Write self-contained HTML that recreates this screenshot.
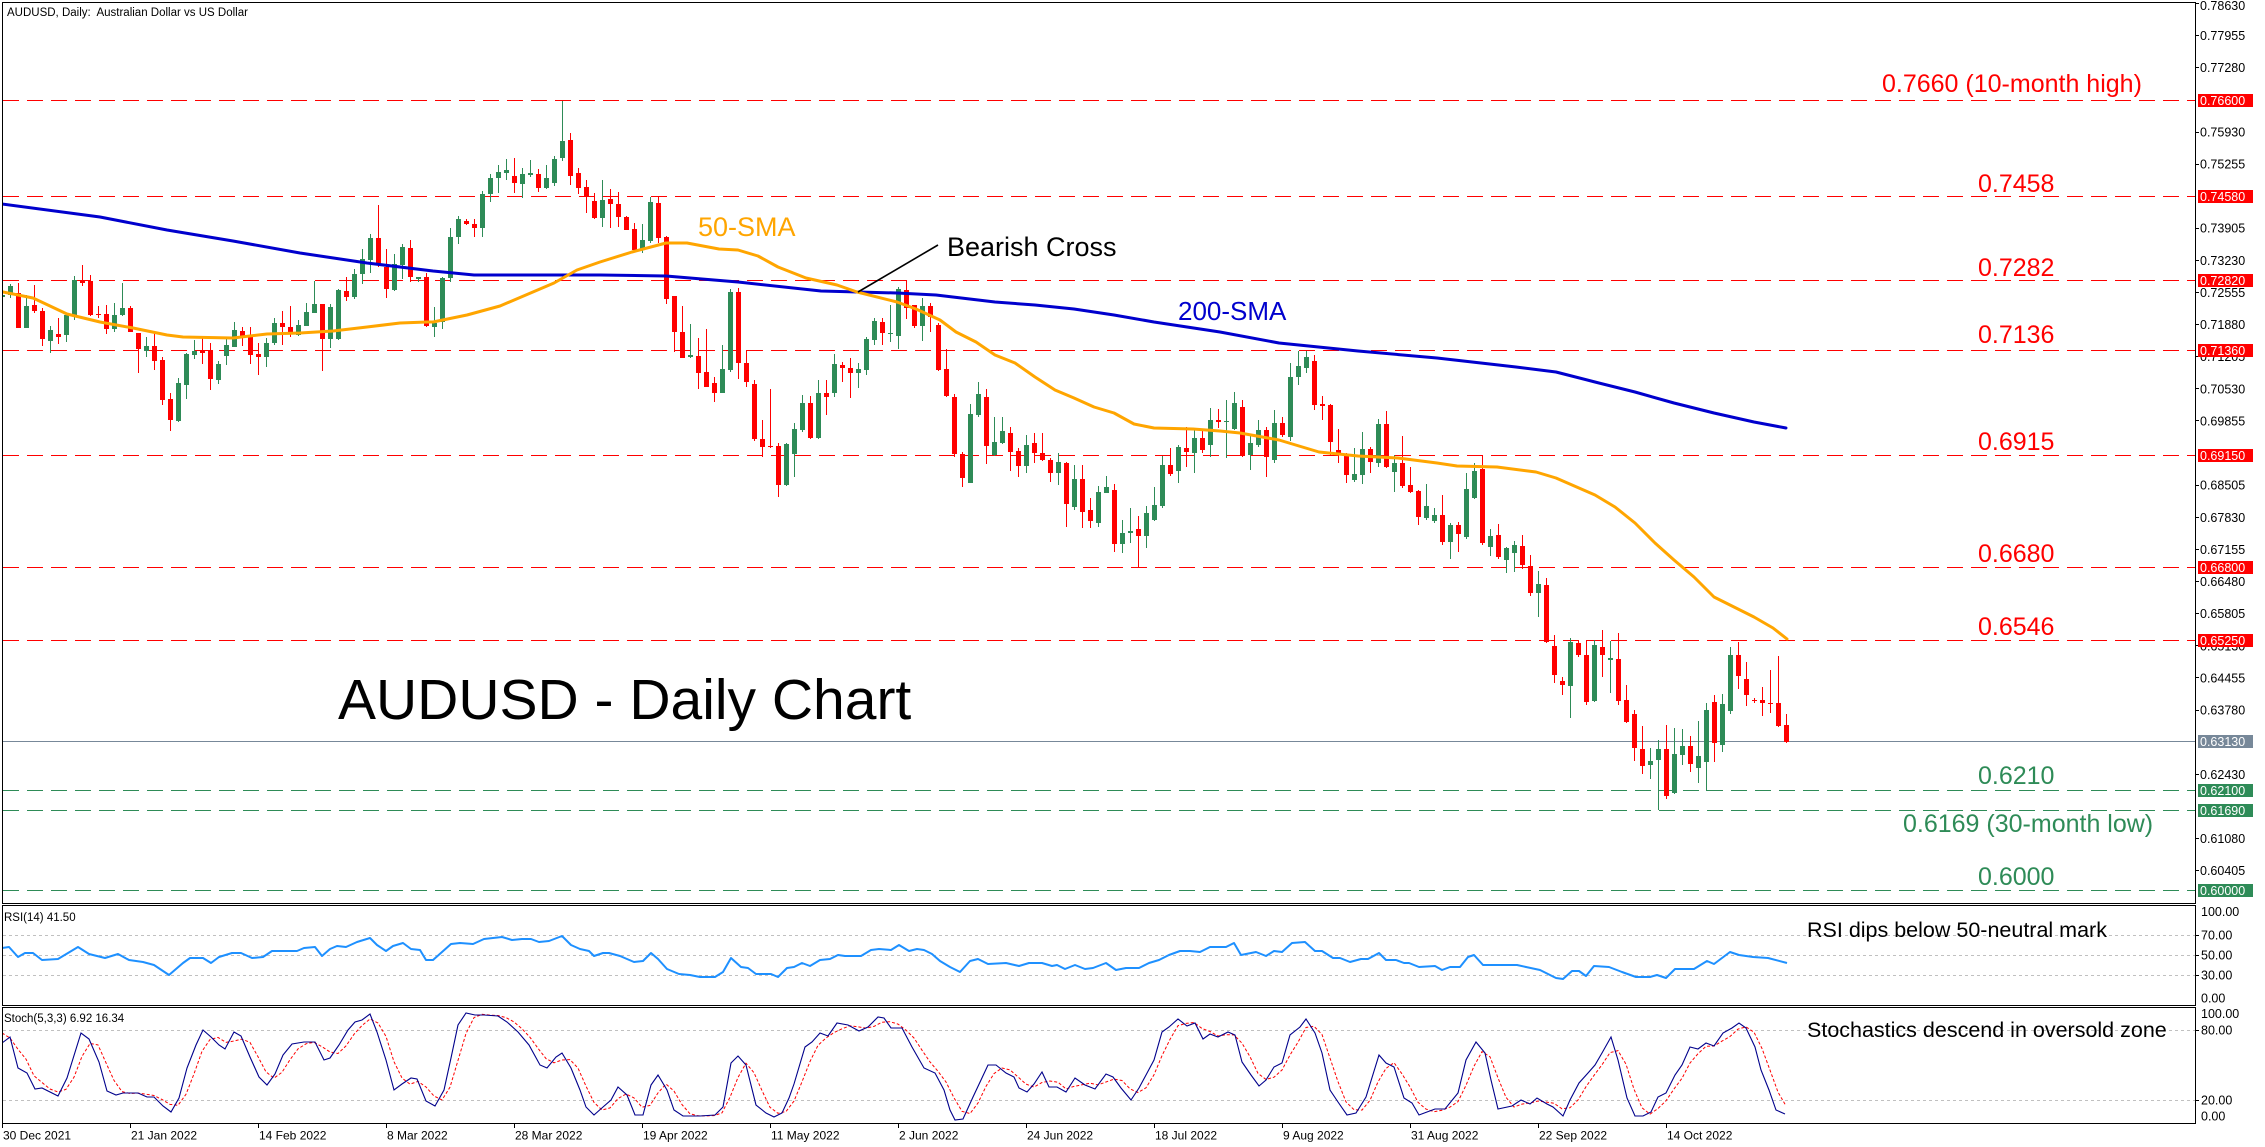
<!DOCTYPE html>
<html><head><meta charset="utf-8"><style>
html,body{margin:0;padding:0;background:#fff;overflow:hidden;}
svg{display:block;font-family:"Liberation Sans",Arial,sans-serif;}
</style></head><body>
<svg width="2265" height="1147" viewBox="0 0 2265 1147">
<defs>
<clipPath id="cm"><rect x="3" y="3" width="2192" height="900"/></clipPath>
<clipPath id="cr"><rect x="3" y="906" width="2192" height="99"/></clipPath>
<clipPath id="cs"><rect x="3" y="1008" width="2192" height="115"/></clipPath>
</defs>
<rect width="2265" height="1147" fill="#fff"/>

<!-- level lines -->
<g stroke-width="1" shape-rendering="crispEdges" fill="none">
<g stroke="#FF0000" stroke-dasharray="16 8">
<line x1="3" y1="100.5" x2="2195" y2="100.5"/>
<line x1="3" y1="196.5" x2="2195" y2="196.5"/>
<line x1="3" y1="280.5" x2="2195" y2="280.5"/>
<line x1="3" y1="350.5" x2="2195" y2="350.5"/>
<line x1="3" y1="455.5" x2="2195" y2="455.5"/>
<line x1="3" y1="567.5" x2="2195" y2="567.5"/>
<line x1="3" y1="640.5" x2="2195" y2="640.5"/>
</g>
<g stroke="#2E8B57" stroke-dasharray="16 8">
<line x1="3" y1="790.5" x2="2195" y2="790.5"/>
<line x1="3" y1="810.5" x2="2195" y2="810.5"/>
<line x1="3" y1="890.5" x2="2195" y2="890.5"/>
</g>
<line x1="3" y1="741.5" x2="2195" y2="741.5" stroke="#778899"/>
<g stroke="#C0C0C0" stroke-dasharray="3 3">
<line x1="3" y1="935.5" x2="2195" y2="935.5"/>
<line x1="3" y1="955.5" x2="2195" y2="955.5"/>
<line x1="3" y1="975.5" x2="2195" y2="975.5"/>
<line x1="3" y1="1030.5" x2="2195" y2="1030.5"/>
<line x1="3" y1="1100.5" x2="2195" y2="1100.5"/>
</g>
</g>

<!-- candles -->
<g id="candles" clip-path="url(#cm)" shape-rendering="crispEdges"></g>

<!-- moving averages -->
<g clip-path="url(#cm)" fill="none" stroke-linejoin="round" stroke-linecap="round">
<polyline stroke="#0000CD" stroke-width="3" points="2,204 100,217 167,230 233,241 300,253 367,263 433,271 474,275 561,275 600,275 666,276 738,282 821,291 858,292 897,293 936,295 995,302 1035,305 1074,309 1114,315 1154,322 1220,332 1279,343 1358,351 1437,358 1516,367 1556,372 1595,382 1635,392 1674,403 1714,413 1754,422 1786,428"/>
<polyline stroke="#FFA500" stroke-width="3" points="3,292 33,298 67,314 100,322 133,328 167,335 183,337 233,338 267,334 300,333 333,331 367,327 400,323 427,322 433,322 467,315 500,306 554,283 577,270 600,262 632,252 666,243 687,243 719,249 738,250 758,256 778,267 806,278 837,285 857,292 897,302 916,309 940,320 956,332 976,342 995,355 1015,363 1035,377 1055,390 1074,398 1094,407 1114,413 1134,424 1154,428 1193,429 1220,431 1240,433 1279,440 1319,452 1358,456 1398,458 1437,463 1457,466 1497,467 1536,472 1556,478 1595,495 1615,507 1635,523 1655,543 1674,560 1694,577 1714,597 1734,607 1754,617 1773,628 1787,639"/>
</g>

<!-- RSI -->
<g clip-path="url(#cr)" fill="none">
<polyline stroke="#1E90FF" stroke-width="2" stroke-linejoin="round" points="2,948 9,947 18,957 25,953 33,953 42,960 58,959 78,947 89,954 105,958 118,954 129,960 143,962 154,965 169,975 183,963 190,958 203,958 211,963 219,957 232,953 241,953 252,958 263,957 272,951 286,951 297,951 304,948 315,947 322,956 330,949 337,946 346,947 357,942 370,938 377,945 386,951 393,946 403,943 411,949 420,950 426,960 433,960 442,952 451,944 460,943 473,944 484,939 493,938 502,937 512,940 522,939 531,939 539,942 549,941 562,936 571,945 580,949 589,951 594,956 603,953 609,953 620,956 634,962 643,961 651,953 658,959 667,969 679,974 690,975 700,977 715,977 723,972 731,958 741,967 748,968 756,974 771,974 778,977 787,968 794,967 802,963 810,966 820,960 830,959 838,955 845,956 861,956 871,950 879,949 891,950 899,945 909,951 917,949 924,950 932,954 940,961 950,967 960,972 970,961 978,959 988,964 1006,963 1019,966 1029,963 1042,963 1052,966 1057,965 1065,969 1075,965 1085,969 1093,968 1106,963 1116,970 1126,968 1139,968 1149,963 1159,960 1169,955 1180,951 1190,951 1200,952 1210,947 1226,947 1234,943 1241,955 1256,952 1266,956 1274,951 1282,952 1292,943 1305,942 1315,951 1322,951 1333,958 1340,958 1350,962 1361,959 1368,959 1379,953 1386,960 1396,960 1404,963 1409,963 1419,967 1435,966 1442,970 1450,967 1460,967 1468,957 1474,955 1483,965 1494,965 1517,965 1526,967 1540,970 1556,978 1563,979 1572,971 1579,971 1586,976 1594,966 1609,967 1622,972 1636,977 1650,977 1657,975 1666,978 1675,969 1694,969 1707,961 1714,964 1730,952 1739,955 1753,957 1768,958 1787,963"/>
</g>

<!-- Stochastic -->
<g clip-path="url(#cs)" fill="none">
<polyline id="sig" stroke="#FF0000" stroke-width="1" stroke-dasharray="3 2" points=""/>
<polyline id="stm" stroke="#00008B" stroke-width="1.1" points="2,1043 10,1037 18,1068 27,1073 35,1089 42,1088 58,1096 67,1078 81,1033 89,1039 99,1062 107,1091 116,1095 123,1093 138,1093 147,1097 154,1097 163,1106 171,1112 179,1098 187,1068 196,1045 203,1030 211,1037 219,1045 225,1049 234,1032 241,1036 250,1057 259,1077 267,1085 275,1074 283,1055 292,1044 304,1042 315,1042 324,1060 330,1058 339,1045 348,1030 355,1022 362,1020 370,1014 377,1032 386,1060 394,1090 402,1084 411,1078 417,1079 426,1101 435,1106 444,1090 451,1058 458,1025 466,1013 475,1015 484,1015 498,1016 507,1022 518,1032 529,1045 540,1065 547,1068 556,1057 562,1053 571,1068 580,1090 586,1107 594,1115 603,1107 611,1100 618,1087 627,1095 635,1115 643,1115 651,1085 658,1075 667,1090 674,1110 683,1116 700,1116 715,1115 723,1107 731,1063 738,1056 746,1065 756,1105 766,1113 774,1117 782,1113 789,1098 794,1084 805,1047 812,1042 820,1033 828,1036 837,1023 848,1025 859,1031 868,1027 878,1017 884,1018 891,1028 902,1028 912,1047 924,1068 935,1073 944,1090 950,1110 955,1120 963,1119 973,1097 981,1080 988,1065 996,1065 1006,1073 1014,1077 1019,1088 1027,1092 1034,1084 1042,1072 1049,1087 1057,1087 1066,1092 1075,1078 1085,1085 1095,1089 1106,1074 1113,1077 1121,1088 1131,1100 1139,1088 1146,1075 1154,1060 1162,1032 1169,1027 1178,1019 1187,1026 1195,1023 1203,1039 1210,1034 1218,1037 1228,1032 1235,1035 1242,1062 1251,1075 1259,1086 1266,1080 1274,1067 1282,1063 1290,1035 1300,1027 1306,1019 1315,1033 1322,1053 1330,1090 1338,1102 1347,1115 1356,1113 1366,1097 1379,1055 1386,1063 1394,1067 1404,1098 1412,1103 1419,1115 1427,1112 1435,1109 1445,1109 1458,1093 1466,1060 1476,1042 1485,1053 1491,1080 1498,1109 1512,1106 1521,1100 1530,1104 1537,1098 1547,1104 1553,1107 1563,1116 1570,1100 1579,1083 1588,1073 1595,1065 1602,1053 1611,1037 1618,1060 1627,1098 1635,1116 1643,1116 1651,1112 1658,1097 1666,1093 1675,1075 1682,1065 1690,1047 1698,1049 1706,1043 1714,1046 1723,1033 1732,1028 1739,1023 1746,1028 1755,1047 1761,1070 1769,1090 1776,1110 1785,1114"/>
</g>

<!-- frames -->
<g fill="none" stroke="#000" stroke-width="1" shape-rendering="crispEdges">
<rect x="2.5" y="2.5" width="2193" height="901"/>
<rect x="2.5" y="905.5" width="2193" height="100"/>
<rect x="2.5" y="1007.5" width="2193" height="116"/>
</g>

<!-- price axis ticks -->
<g stroke="#000" stroke-width="1" shape-rendering="crispEdges">
<line x1="2195" y1="3.5" x2="2199" y2="3.5"/><line x1="2195" y1="35.5" x2="2199" y2="35.5"/><line x1="2195" y1="67.5" x2="2199" y2="67.5"/><line x1="2195" y1="132.5" x2="2199" y2="132.5"/><line x1="2195" y1="164.5" x2="2199" y2="164.5"/><line x1="2195" y1="228.5" x2="2199" y2="228.5"/><line x1="2195" y1="260.5" x2="2199" y2="260.5"/><line x1="2195" y1="292.5" x2="2199" y2="292.5"/><line x1="2195" y1="324.5" x2="2199" y2="324.5"/><line x1="2195" y1="356.5" x2="2199" y2="356.5"/><line x1="2195" y1="388.5" x2="2199" y2="388.5"/><line x1="2195" y1="420.5" x2="2199" y2="420.5"/><line x1="2195" y1="485.5" x2="2199" y2="485.5"/><line x1="2195" y1="517.5" x2="2199" y2="517.5"/><line x1="2195" y1="549.5" x2="2199" y2="549.5"/><line x1="2195" y1="581.5" x2="2199" y2="581.5"/><line x1="2195" y1="613.5" x2="2199" y2="613.5"/><line x1="2195" y1="645.5" x2="2199" y2="645.5"/><line x1="2195" y1="677.5" x2="2199" y2="677.5"/><line x1="2195" y1="710.5" x2="2199" y2="710.5"/><line x1="2195" y1="774.5" x2="2199" y2="774.5"/><line x1="2195" y1="838.5" x2="2199" y2="838.5"/><line x1="2195" y1="870.5" x2="2199" y2="870.5"/>
<line x1="2195" y1="935.5" x2="2199" y2="935.5"/><line x1="2195" y1="955.5" x2="2199" y2="955.5"/><line x1="2195" y1="975.5" x2="2199" y2="975.5"/>
<line x1="2195" y1="1030.5" x2="2199" y2="1030.5"/><line x1="2195" y1="1100.5" x2="2199" y2="1100.5"/>
<line x1="2.5" y1="1123" x2="2.5" y2="1128"/><line x1="130.5" y1="1123" x2="130.5" y2="1128"/><line x1="258.5" y1="1123" x2="258.5" y2="1128"/><line x1="386.5" y1="1123" x2="386.5" y2="1128"/><line x1="514.5" y1="1123" x2="514.5" y2="1128"/><line x1="642.5" y1="1123" x2="642.5" y2="1128"/><line x1="770.5" y1="1123" x2="770.5" y2="1128"/><line x1="898.5" y1="1123" x2="898.5" y2="1128"/><line x1="1026.5" y1="1123" x2="1026.5" y2="1128"/><line x1="1154.5" y1="1123" x2="1154.5" y2="1128"/><line x1="1282.5" y1="1123" x2="1282.5" y2="1128"/><line x1="1410.5" y1="1123" x2="1410.5" y2="1128"/><line x1="1538.5" y1="1123" x2="1538.5" y2="1128"/><line x1="1666.5" y1="1123" x2="1666.5" y2="1128"/>
</g>

<!-- price axis labels -->
<g font-size="12.5" fill="#000">
<text x="2200" y="10">0.78630</text>
<text x="2200" y="40">0.77955</text>
<text x="2200" y="72">0.77280</text>
<text x="2200" y="136.4">0.75930</text>
<text x="2200" y="168.5">0.75255</text>
<text x="2200" y="232.7">0.73905</text>
<text x="2200" y="264.9">0.73230</text>
<text x="2200" y="297">0.72555</text>
<text x="2200" y="329.1">0.71880</text>
<text x="2200" y="361.2">0.71205</text>
<text x="2200" y="393.3">0.70530</text>
<text x="2200" y="425.5">0.69855</text>
<text x="2200" y="489.7">0.68505</text>
<text x="2200" y="521.8">0.67830</text>
<text x="2200" y="553.9">0.67155</text>
<text x="2200" y="586.1">0.66480</text>
<text x="2200" y="618.2">0.65805</text>
<text x="2200" y="650.3">0.65130</text>
<text x="2200" y="682.4">0.64455</text>
<text x="2200" y="714.5">0.63780</text>
<text x="2200" y="778.8">0.62430</text>
<text x="2200" y="843">0.61080</text>
<text x="2200" y="875.1">0.60405</text>
<text x="2201" y="916">100.00</text>
<text x="2201" y="939.5">70.00</text>
<text x="2201" y="959.5">50.00</text>
<text x="2201" y="979.5">30.00</text>
<text x="2201" y="1002.5">0.00</text>
<text x="2201" y="1018">100.00</text>
<text x="2201" y="1034.5">80.00</text>
<text x="2201" y="1104.5">20.00</text>
<text x="2201" y="1120.5">0.00</text>
</g>

<!-- price boxes -->
<g shape-rendering="crispEdges">
<rect x="2198" y="94" width="55" height="13" fill="#FF0000"/>
<rect x="2198" y="190" width="55" height="13" fill="#FF0000"/>
<rect x="2198" y="274" width="55" height="13" fill="#FF0000"/>
<rect x="2198" y="344" width="55" height="13" fill="#FF0000"/>
<rect x="2198" y="449" width="55" height="13" fill="#FF0000"/>
<rect x="2198" y="561" width="55" height="13" fill="#FF0000"/>
<rect x="2198" y="634" width="55" height="13" fill="#FF0000"/>
<rect x="2198" y="735" width="55" height="13" fill="#778899"/>
<rect x="2198" y="784" width="55" height="13" fill="#2E8B57"/>
<rect x="2198" y="804" width="55" height="13" fill="#2E8B57"/>
<rect x="2198" y="884" width="55" height="13" fill="#2E8B57"/>
</g>
<g font-size="12.5" fill="#fff">
<text x="2200" y="105">0.76600</text>
<text x="2200" y="201">0.74580</text>
<text x="2200" y="285">0.72820</text>
<text x="2200" y="355">0.71360</text>
<text x="2200" y="460">0.69150</text>
<text x="2200" y="572">0.66800</text>
<text x="2200" y="645">0.65250</text>
<text x="2200" y="746">0.63130</text>
<text x="2200" y="795">0.62100</text>
<text x="2200" y="815">0.61690</text>
<text x="2200" y="895">0.60000</text>
</g>

<!-- x axis labels -->
<g font-size="12" fill="#000">
<text x="3" y="1139.5">30 Dec 2021</text>
<text x="131" y="1139.5">21 Jan 2022</text>
<text x="259" y="1139.5">14 Feb 2022</text>
<text x="387" y="1139.5">8 Mar 2022</text>
<text x="515" y="1139.5">28 Mar 2022</text>
<text x="643" y="1139.5">19 Apr 2022</text>
<text x="771" y="1139.5">11 May 2022</text>
<text x="899" y="1139.5">2 Jun 2022</text>
<text x="1027" y="1139.5">24 Jun 2022</text>
<text x="1155" y="1139.5">18 Jul 2022</text>
<text x="1283" y="1139.5">9 Aug 2022</text>
<text x="1411" y="1139.5">31 Aug 2022</text>
<text x="1539" y="1139.5">22 Sep 2022</text>
<text x="1667" y="1139.5">14 Oct 2022</text>
</g>

<!-- panel captions -->
<g font-size="11.5" fill="#000">
<text x="7" y="16">AUDUSD, Daily:&#160; Australian Dollar vs US Dollar</text>
<text x="4" y="921">RSI(14) 41.50</text>
<text x="4" y="1022">Stoch(5,3,3) 6.92 16.34</text>
</g>

<!-- annotations -->
<g font-size="25" fill="#FF0000">
<text x="1882" y="92">0.7660 (10-month high)</text>
<text x="1978" y="192">0.7458</text>
<text x="1978" y="276">0.7282</text>
<text x="1978" y="343">0.7136</text>
<text x="1978" y="450">0.6915</text>
<text x="1978" y="562">0.6680</text>
<text x="1978" y="635">0.6546</text>
</g>
<g font-size="25" fill="#2E8B57">
<text x="1978" y="784">0.6210</text>
<text x="1903" y="832">0.6169 (30-month low)</text>
<text x="1978" y="885">0.6000</text>
</g>
<text x="698" y="236" font-size="27" fill="#FFA500">50-SMA</text>
<text x="947" y="256" font-size="27" fill="#000">Bearish Cross</text>
<line x1="938" y1="245" x2="858" y2="292" stroke="#000" stroke-width="1.6"/>
<text x="1178" y="320" font-size="26" fill="#0000CD">200-SMA</text>
<text x="338" y="719" font-size="57" fill="#000">AUDUSD - Daily Chart</text>
<text x="1807" y="937" font-size="21.5" fill="#000">RSI dips below 50-neutral mark</text>
<text x="1807" y="1037" font-size="21.5" fill="#000">Stochastics descend in oversold zone</text>
</svg>

<script>
(function(){
var D=[[1,295,297,292,300],[1,286,295,284,298],[0,293,328,283,328],[1,306,328,295,328],[0,305,311,285,313],[0,311,339,308,346],[1,330,341,326,353],[0,334,337,318,344],[1,315,335,313,342],[1,280,315,276,320],
[0,281,283,265,286],[0,281,315,275,316],[0,314,315,306,318],[0,314,329,305,334],[1,315,329,303,332],[1,308,315,283,316],[0,308,332,306,332],[0,333,349,333,373],[1,346,351,337,357],[0,346,361,332,370],
[0,360,400,357,405],[0,399,420,393,431],[1,383,421,378,422],[1,354,385,353,399],[1,351,355,340,359],[0,351,353,336,364],[0,350,379,343,390],[1,364,380,361,384],[1,345,356,338,365],[1,330,347,322,347],
[0,331,337,327,346],[0,337,355,327,364],[0,354,357,343,375],[1,343,357,338,367],[1,323,343,318,345],[0,323,327,311,345],[0,327,333,306,337],[1,325,335,320,336],[1,312,326,303,326],[1,304,313,281,313],
[0,304,339,304,371],[1,307,339,304,348],[1,290,339,289,340],[0,291,297,277,301],[1,274,297,269,299],[1,259,274,249,284],[1,238,260,234,273],[0,238,264,205,267],[0,267,289,249,298],[1,264,290,254,291],
[1,247,265,244,279],[0,248,277,240,282],[1,277,279,277,282],[0,277,326,273,327],[1,323,327,307,337],[1,278,322,277,329],[1,237,278,228,282],[1,219,237,216,244],[0,221,224,219,225],[0,224,228,219,237],
[1,194,228,191,237],[1,178,194,174,202],[1,172,178,165,193],[1,170,173,159,180],[0,176,183,158,193],[1,174,184,168,198],[1,173,175,160,177],[0,174,188,169,192],[1,178,188,165,189],[1,159,183,156,186],
[1,141,158,101,161],[0,140,176,133,185],[0,173,188,168,194],[0,187,197,180,213],[0,201,218,193,219],[1,200,218,180,227],[0,199,204,189,228],[0,204,217,192,227],[0,217,230,216,230],[0,229,250,223,250],
[1,240,250,224,253],[1,202,241,197,243],[0,203,238,197,243],[0,237,299,236,304],[0,296,332,296,352],[0,332,358,306,358],[1,355,357,324,358],[0,356,373,338,389],[0,372,387,329,387],[0,383,393,377,402],
[1,369,393,345,393],[1,292,370,289,372],[0,292,363,288,379],[0,363,382,350,387],[0,384,439,380,441],[0,439,447,420,457],[0,446,447,389,448],[0,446,485,443,497],[1,444,485,443,486],[1,429,454,423,477],
[1,403,430,395,432],[0,403,438,396,439],[1,393,438,380,439],[0,393,397,380,415],[1,364,393,354,397],[0,365,368,362,382],[0,368,373,358,398],[1,369,373,363,388],[1,339,370,337,375],[1,321,340,318,345],
[0,322,333,318,345],[1,333,334,305,342],[1,289,336,287,349],[0,290,308,281,319],[0,305,326,305,328],[1,306,326,298,341],[0,306,317,303,332],[0,325,370,323,371],[0,369,396,349,397],[0,397,454,394,457],
[0,454,478,452,487],[1,414,483,404,483],[1,394,415,382,417],[0,397,446,389,464],[1,442,455,417,456],[1,431,443,417,444],[0,433,452,427,471],[0,451,466,448,477],[1,445,466,435,473],[0,443,453,433,463],
[0,453,460,433,461],[0,460,473,458,482],[1,462,473,453,485],[0,463,504,462,527],[1,479,507,465,510],[0,479,512,465,528],[0,510,521,498,528],[1,492,523,486,527],[1,487,493,476,493],[0,490,544,484,552],
[1,533,544,520,553],[1,531,533,508,543],[0,529,536,516,567],[1,513,536,506,548],[1,505,520,487,521],[1,465,506,456,508],[0,465,474,448,476],[1,447,471,445,483],[0,448,452,427,467],[1,438,453,430,473],
[0,438,450,430,453],[1,420,445,408,457],[0,420,422,409,428],[1,421,422,400,458],[1,403,429,392,430],[0,407,456,400,457],[1,443,455,436,470],[1,430,445,420,447],[0,430,457,427,477],[1,423,460,410,463],
[0,423,435,417,437],[1,377,437,363,441],[1,366,377,351,385],[1,357,368,351,373],[0,361,405,355,410],[0,404,406,396,420],[0,405,442,404,456],[0,450,453,429,463],[0,454,475,453,483],[1,474,480,448,482],
[1,449,475,432,484],[0,449,462,447,473],[1,424,463,419,467],[0,424,467,411,468],[1,463,472,455,492],[0,463,486,436,488],[0,485,492,467,493],[0,491,517,490,525],[1,506,518,484,520],[1,515,521,508,523],
[0,515,542,495,545],[1,525,542,523,559],[0,525,534,522,552],[1,489,537,473,539],[1,471,498,463,499],[0,469,543,456,545],[1,536,547,529,556],[0,535,557,524,559],[1,548,560,547,573],[1,545,553,541,572],
[0,546,565,535,569],[0,566,593,555,596],[1,584,593,571,617],[0,585,642,578,643],[0,646,675,635,683],[0,681,685,677,695],[1,642,686,638,718],[0,643,655,641,657],[0,655,702,640,705],[1,645,701,640,702],
[0,647,655,630,677],[1,658,660,641,693],[0,659,701,633,705],[0,700,722,685,723],[0,714,748,710,761],[0,749,766,726,774],[1,761,765,748,779],[1,749,760,740,810],[0,749,796,725,799],[1,754,793,728,794],
[1,746,755,729,765],[0,746,764,736,772],[1,756,768,721,783],[1,710,762,703,791],[0,702,743,695,762],[1,704,745,694,752],[1,655,711,647,714],[0,655,676,642,689],[0,679,695,662,706],[0,700,701,698,703],
[0,700,703,687,716],[0,703,704,670,713],[0,703,726,656,727],[0,725,742,714,743]];
var s='';
for(var i=0;i<D.length;i++){
 var d=D[i],x=2+8*i,c=d[0]?'#2E8B57':'#FF0000';
 s+='<rect x="'+x+'" y="'+d[3]+'" width="1" height="'+Math.max(1,d[4]-d[3])+'" fill="'+c+'"/>';
 s+='<rect x="'+(x-2)+'" y="'+d[1]+'" width="5" height="'+Math.max(1,d[2]-d[1])+'" fill="'+c+'"/>';
}
document.getElementById('candles').innerHTML=s;

var pts=document.getElementById('stm').getAttribute('points').trim().split(/\s+/).map(function(p){var a=p.split(',');return [+a[0],+a[1]];});
function it(x){
 if(x<=pts[0][0])return pts[0][1];
 for(var j=1;j<pts.length;j++){if(x<=pts[j][0]){var a=pts[j-1],b=pts[j];return a[1]+(b[1]-a[1])*(x-a[0])/(b[0]-a[0]);}}
 return pts[pts.length-1][1];
}
var m=[];for(var k=0;k<224;k++){m.push(it(2+8*k));}
var sp=['2,1033','10,1038'];
for(var k=2;k<224;k++){var v=(m[k]+m[k-1]+m[k-2])/3;sp.push((2+8*k)+','+v.toFixed(1));}
document.getElementById('sig').setAttribute('points',sp.join(' '));
})();
</script>
</body></html>
